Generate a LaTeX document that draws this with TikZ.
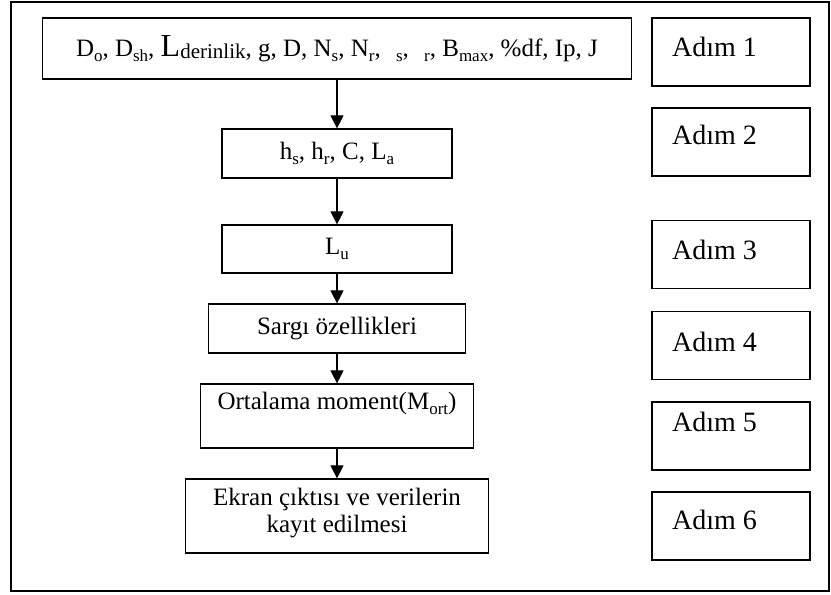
\documentclass[tikz,border=0pt]{standalone}
\usepackage{fontspec}
\setmainfont{Liberation Serif}
\usetikzlibrary{arrows.meta}
\newcommand\sbx[1]{\raisebox{-0.2em}{\fontsize{17}{17}\selectfont #1}}
\begin{document}
\begin{tikzpicture}[x=1pt,y=-1pt,
  flowbox/.style={draw, line width=1.2pt, inner sep=0pt, align=center, font=\fontsize{25}{29}\selectfont},
  adimbox/.style={draw, line width=1.2pt, inner sep=0pt, minimum width=158pt, minimum height=68pt},
  adimtxt/.style={anchor=base west, inner sep=0pt, font=\fontsize{28}{30}\selectfont},
  flowtxt/.style={inner sep=0pt, align=center, font=\fontsize{25}{27}\selectfont},
  arr/.style={-{Triangle[length=13pt,width=13pt]}, line width=1.1pt}]
\useasboundingbox (0,0) rectangle (831,595);
\node[draw, line width=1.7pt, minimum width=818pt, minimum height=589pt, inner sep=0pt] (frame) at (420,296.5) {};
% flow boxes
\node[flowbox, minimum width=589pt, minimum height=61pt] (b1) at (337,48.5)
  {D\sbx{o}, D\sbx{sh}, {\fontsize{32}{32}\selectfont L}\raisebox{-0.1em}{\fontsize{21}{21}\selectfont derinlik}, g, D, N\sbx{s}, N\sbx{r}, \hspace{9pt}\sbx{s}, \hspace{9pt}\sbx{r}, B\sbx{max}, \%df, Ip, J};
\node[flowbox, minimum width=230pt, minimum height=49pt] (b2) at (337,153.5)
  {h\sbx{s}, h\sbx{r}, C, L\sbx{a}};
\node[flowbox, minimum width=230pt, minimum height=48pt] (b3) at (337,249)
  {L\sbx{u}};
\node[flowbox, minimum width=257pt, minimum height=49pt] (b4) at (337,328.5)
  {Sargı özellikleri};
\node[flowbox, minimum width=273pt, minimum height=64pt] (b5) at (337,416) {};
\node[flowtxt] (t5) at (337,403) {Ortalama moment(M\sbx{ort})};
\node[flowbox, minimum width=303pt, minimum height=74pt] (b6) at (337,516) {};
\node[flowtxt] (t6) at (337,513) {Ekran çıktısı ve verilerin\\kayıt edilmesi};
% arrows
\draw[arr] (b1.south) -- (b2.north);
\draw[arr] (b2.south) -- (b3.north);
\draw[arr] (b3.south) -- (b4.north);
\draw[arr] (b4.south) -- (b5.north);
\draw[arr] (b5.south) -- (b6.north);
% step boxes
\node[adimbox] (a1) at (731,52) {};
\node[adimbox] (a2) at (731,142) {};
\node[adimbox] (a3) at (731,254.5) {};
\node[adimbox] (a4) at (731,345.5) {};
\node[adimbox] (a5) at (731,436) {};
\node[adimbox] (a6) at (731,526) {};
\node[adimtxt] (s1) at (672,56.5) {Adım 1};
\node[adimtxt] (s2) at (672,144.5) {Adım 2};
\node[adimtxt] (s3) at (672,259.5) {Adım 3};
\node[adimtxt] (s4) at (672,351.5) {Adım 4};
\node[adimtxt] (s5) at (672,431.5) {Adım 5};
\node[adimtxt] (s6) at (672,529.5) {Adım 6};
\end{tikzpicture}
\end{document}
